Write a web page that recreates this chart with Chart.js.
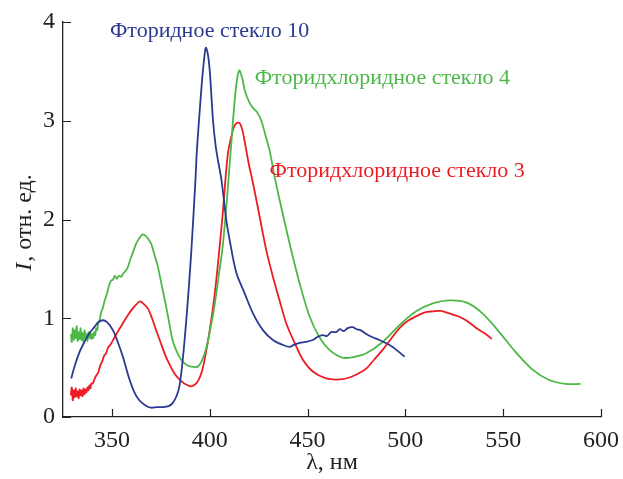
<!DOCTYPE html>
<html lang="ru">
<head>
    <meta charset="UTF-8">
    <title>Спектры</title>
    <script src="https://cdn.jsdelivr.net/npm/chart.js"></script>
    <style>
        body {
            margin: 0;
            background: #fff;
        }
    </style>
</head>
<body>
    <canvas id="chart" width="623" height="479"></canvas>

    <script>
        // Wavelength (nm) and intensity values
        const blueNm = [329.2, 331, 333.5, 336, 338.6, 341, 343, 345.4, 347.5, 350.5, 353, 355.6, 359, 361.5, 364, 367, 370, 373, 376, 379, 381, 383, 384.5, 386.2, 388.3, 390.5, 392.7, 393.5, 395.8, 397, 398, 399, 400, 401.7, 403, 404.2, 406, 408.5, 410.2, 413.6, 417.9, 422.1, 427.2, 432.3, 437.4, 440.8, 443, 446, 449, 452.7, 455, 457.8, 460, 462, 464.6, 466.5, 468.5, 470.5, 473, 475, 477, 480, 483, 486.7, 490, 493.5, 496, 499.6];
        const blueI = [0.39, 0.52, 0.66, 0.76, 0.85, 0.91, 0.96, 0.98, 0.96, 0.88, 0.76, 0.61, 0.38, 0.25, 0.17, 0.12, 0.094, 0.10, 0.10, 0.11, 0.14, 0.21, 0.31, 0.58, 1.05, 1.65, 2.40, 2.72, 3.34, 3.60, 3.74, 3.68, 3.51, 3.0, 2.75, 2.60, 2.40, 1.99, 1.79, 1.46, 1.25, 1.05, 0.88, 0.78, 0.73, 0.71, 0.73, 0.75, 0.76, 0.78, 0.81, 0.83, 0.82, 0.86, 0.86, 0.89, 0.87, 0.90, 0.91, 0.89, 0.88, 0.84, 0.81, 0.78, 0.75, 0.71, 0.67, 0.61];

        const greenNm = [329, 329.5, 330, 330.5, 331, 331.5, 332, 332.5, 333, 333.5, 334, 334.5, 335, 335.5, 336, 336.5, 337, 337.5, 338, 338.5, 339, 339.5, 340, 340.5, 341, 341.5, 342, 342.5, 343, 343.7, 344.5, 345.3, 346.3, 347.5, 348.5, 349.5, 350.5, 351.5, 352.5, 353.5, 354.7, 356, 357, 358, 359.5, 361, 362.5, 364, 365.8, 367.5, 369, 370, 371.5, 373.5, 375.5, 377.7, 379.5, 381, 383, 385.4, 388, 390.5, 393.9, 396, 398, 400, 402.4, 404.5, 406.6, 409.3, 411.9, 413.5, 415, 416.5, 417.9, 420.4, 422.5, 424.1, 426.4, 428.5, 430.6, 433, 435.7, 440.8, 446, 451, 456, 461.2, 468, 474, 480, 488.4, 497, 505.5, 514, 522.4, 531, 539.4, 548, 556.5, 565, 573.5, 582, 589.6];
        const greenI = [0.84, 0.76, 0.9, 0.78, 0.88, 0.8, 0.92, 0.77, 0.86, 0.79, 0.9, 0.78, 0.85, 0.76, 0.88, 0.8, 0.84, 0.77, 0.86, 0.8, 0.85, 0.79, 0.84, 0.8, 0.86, 0.83, 0.9, 0.88, 0.95, 0.98, 1.06, 1.10, 1.18, 1.25, 1.33, 1.38, 1.39, 1.43, 1.40, 1.43, 1.42, 1.46, 1.48, 1.51, 1.60, 1.68, 1.76, 1.81, 1.85, 1.83, 1.79, 1.76, 1.66, 1.52, 1.33, 1.12, 0.93, 0.78, 0.67, 0.58, 0.53, 0.51, 0.51, 0.57, 0.68, 0.86, 1.12, 1.42, 1.72, 2.33, 3.0, 3.35, 3.51, 3.44, 3.31, 3.18, 3.12, 3.09, 3.0, 2.85, 2.70, 2.45, 2.20, 1.76, 1.35, 1.02, 0.81, 0.68, 0.60, 0.61, 0.645, 0.76, 0.93, 1.07, 1.15, 1.18, 1.16, 1.05, 0.86, 0.655, 0.48, 0.375, 0.335, 0.335];

        const redNm = [329, 329.5, 330, 330.5, 331, 331.5, 332, 332.5, 333, 333.5, 334, 334.5, 335, 335.5, 336, 336.5, 337, 337.5, 338, 338.5, 339, 339.5, 340.3, 341, 342, 343, 344, 345, 346, 347, 348, 349.5, 351.4, 353.5, 355.6, 357.8, 359.9, 362, 364.4, 366.5, 368.4, 370.5, 372.6, 374.8, 376.9, 379.5, 382, 384.5, 387, 390.5, 392.5, 393.9, 396, 398, 400, 402.4, 404.2, 406.6, 409.3, 411.9, 413, 414.4, 415.5, 417, 418.5, 420, 422.1, 425.5, 428.9, 432.3, 435.7, 439.1, 443.4, 447.6, 452.7, 459.5, 466.3, 471.4, 475, 480, 484, 488.4, 493, 497, 501, 505.5, 510, 514, 518, 522.4, 527, 531, 535, 537.8, 541, 544.2];
        const redI = [0.22, 0.3, 0.17, 0.27, 0.2, 0.29, 0.21, 0.26, 0.19, 0.28, 0.22, 0.27, 0.21, 0.29, 0.23, 0.28, 0.25, 0.3, 0.27, 0.32, 0.29, 0.34, 0.34, 0.38, 0.42, 0.45, 0.52, 0.56, 0.62, 0.645, 0.7, 0.74, 0.81, 0.88, 0.95, 1.02, 1.08, 1.13, 1.17, 1.14, 1.10, 1.0, 0.88, 0.76, 0.645, 0.53, 0.44, 0.38, 0.34, 0.31, 0.33, 0.36, 0.46, 0.645, 0.88, 1.22, 1.55, 2.05, 2.67, 2.91, 2.96, 2.98, 2.97, 2.88, 2.72, 2.56, 2.37, 2.03, 1.69, 1.42, 1.18, 0.95, 0.75, 0.58, 0.46, 0.39, 0.38, 0.40, 0.43, 0.49, 0.58, 0.68, 0.80, 0.90, 0.97, 1.02, 1.06, 1.07, 1.075, 1.05, 1.02, 0.98, 0.92, 0.88, 0.84, 0.79];

        const xTicks = [350, 400, 450, 500, 550, 600];
        const yTicks = [0, 1, 2, 3, 4];

        const seriesNames = ['Фторидное стекло 10', 'Фторидхлоридное стекло 4', 'Фторидхлоридное стекло 3'];
        const colors = ['#2b3990', '#4cb848', '#ed1c24'];

        const serif = "'Liberation Serif', 'Times New Roman', serif";

        function toPoints(xs, ys) {
            return xs.map((x, i) => ({ x: x, y: ys[i] }));
        }

        // label anchors in data units (left edge, vertical middle)
        const labelAnchors = [
            { x: 349, y: 3.91 },
            { x: 423, y: 3.43 },
            { x: 430.6, y: 2.49 }
        ];

        // inward tick marks, curve labels and the y title with italic I
        const extrasPlugin = {
            id: 'extras',
            afterDraw(chart) {
                const ctx = chart.ctx;
                const xs = chart.scales.x;
                const ys = chart.scales.y;
                const area = chart.chartArea;
                ctx.save();
                ctx.strokeStyle = '#222';
                ctx.lineWidth = 1.2;
                ctx.beginPath();
                xTicks.forEach(v => {
                    const px = Math.round(xs.getPixelForValue(v)) + 0.5;
                    ctx.moveTo(px, area.bottom);
                    ctx.lineTo(px, area.bottom - 8);
                });
                yTicks.forEach(v => {
                    const py = Math.round(ys.getPixelForValue(v)) + 0.5;
                    ctx.moveTo(area.left, py);
                    ctx.lineTo(area.left + 8, py);
                });
                ctx.stroke();

                ctx.font = '22px ' + serif;
                ctx.textBaseline = 'middle';
                ctx.textAlign = 'left';
                seriesNames.forEach((name, i) => {
                    ctx.fillStyle = colors[i];
                    ctx.fillText(name, xs.getPixelForValue(labelAnchors[i].x), ys.getPixelForValue(labelAnchors[i].y));
                });

                // y axis title
                ctx.translate(25, 223);
                ctx.rotate(-Math.PI / 2);
                ctx.fillStyle = '#222';
                ctx.textBaseline = 'middle';
                const italic = 'italic 24px ' + serif;
                const normal = '24px ' + serif;
                ctx.font = italic;
                const w1 = ctx.measureText('I').width;
                ctx.font = normal;
                const w2 = ctx.measureText(', отн. ед.').width;
                const start = -(w1 + w2) / 2;
                ctx.font = italic;
                ctx.fillText('I', start, 0);
                ctx.font = normal;
                ctx.fillText(', отн. ед.', start + w1 + 1, 0);
                ctx.restore();
            }
        };

        const datasets = [
            { data: toPoints(blueNm, blueI) },
            { data: toPoints(greenNm, greenI) },
            { data: toPoints(redNm, redI) }
        ].map((d, i) => Object.assign(d, {
            label: seriesNames[i],
            borderColor: colors[i],
            borderWidth: 1.8,
            pointRadius: 0,
            tension: 0.3,
            fill: false
        }));

        const ctx = document.getElementById('chart').getContext('2d');
        const chart = new Chart(ctx, {
            type: 'line',
            data: { datasets: datasets },
            options: {
                responsive: false,
                animation: false,
                layout: { padding: { top: 22, right: 22, left: 0, bottom: 0 } },
                plugins: {
                    legend: { display: false },
                    tooltip: { enabled: false }
                },
                scales: {
                    x: {
                        type: 'linear',
                        min: 325,
                        max: 600,
                        afterBuildTicks: scale => { scale.ticks = xTicks.map(v => ({ value: v })); },
                        afterFit: scale => {
                            scale.height = 62;
                            scale.paddingLeft = 0;
                            scale.paddingRight = 0;
                        },
                        grid: { display: true, drawOnChartArea: false, drawTicks: false },
                        border: { display: true, color: '#222', width: 1.3 },
                        ticks: {
                            padding: 9,
                            color: '#222',
                            font: { family: serif, size: 24 },
                            maxRotation: 0
                        },
                        title: {
                            display: true,
                            text: 'λ, нм',
                            color: '#222',
                            font: { family: serif, size: 24 },
                            padding: { top: 0, bottom: 2 }
                        }
                    },
                    y: {
                        min: 0,
                        max: 4,
                        afterBuildTicks: scale => { scale.ticks = yTicks.map(v => ({ value: v })); },
                        afterFit: scale => {
                            scale.width = 63;
                            scale.paddingTop = 0;
                            scale.paddingBottom = 0;
                        },
                        grid: { display: true, drawOnChartArea: false, drawTicks: false },
                        border: { display: true, color: '#222', width: 1.3 },
                        ticks: {
                            padding: 8,
                            color: '#222',
                            font: { family: serif, size: 24 }
                        }
                    }
                }
            },
            plugins: [extrasPlugin]
        });
    </script>
</body>
</html>
